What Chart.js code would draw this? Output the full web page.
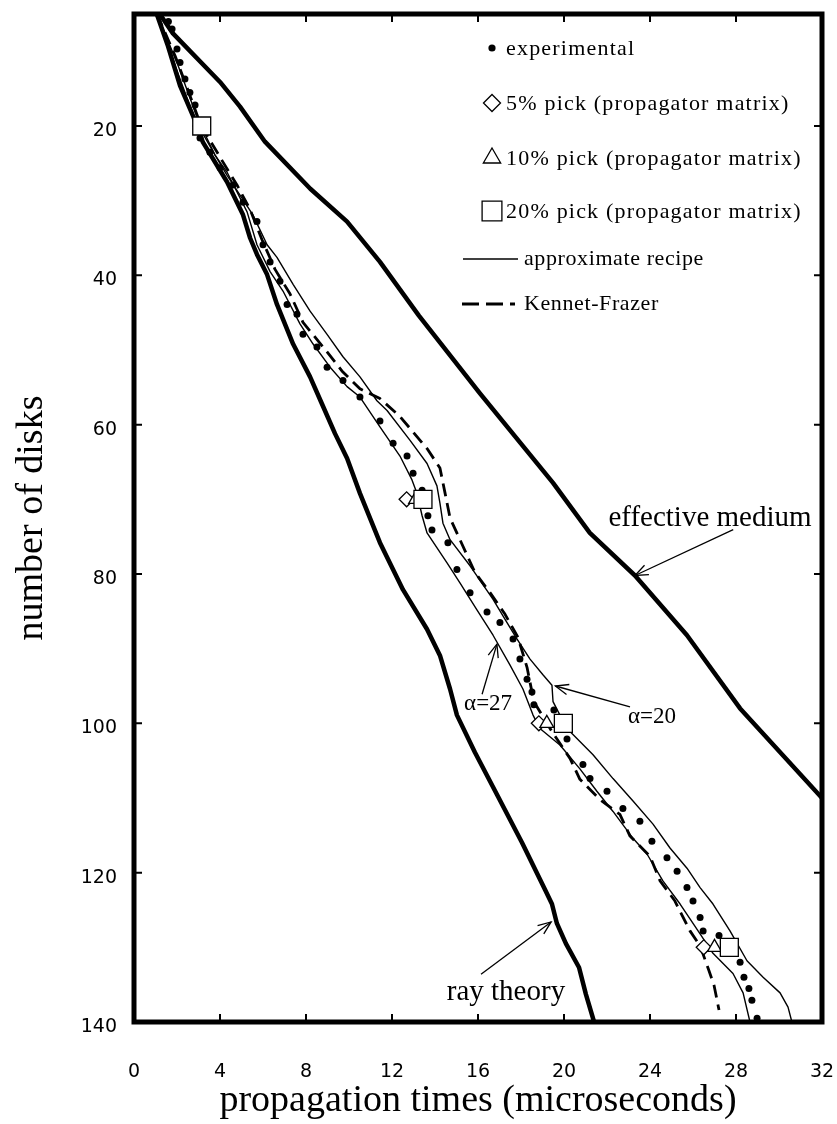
<!DOCTYPE html>
<html>
<head>
<meta charset="utf-8">
<title>Propagation times through a stack of disks</title>
<script src="https://cdn.jsdelivr.net/npm/chart.js@4.4.1/dist/chart.umd.min.js"></script>
<style>
  html, body { margin: 0; padding: 0; background: #fff; }
  #wrap { width: 837px; height: 1124px; }
</style>
</head>
<body>
<div id="wrap"><canvas id="chart" width="837" height="1124"></canvas></div>
<script>
// ---- axis ticks ----
const xTicks = [0, 4, 8, 12, 16, 20, 24, 28, 32];
const yTicks = [20, 40, 60, 80, 100, 120, 140];

// ---- experimental first arrivals: time (microseconds) / number of disks ----
const expT = [1.6, 1.77, 2.0, 2.14, 2.37, 2.6, 2.84, 3.07, 3.53, 4.0, 4.6, 5.07, 5.72, 6.0, 6.33, 6.79,
  7.12, 7.58, 7.86, 8.51, 8.98, 9.72, 10.51, 11.44, 12.05, 12.7, 12.98, 13.4, 13.67, 13.86, 14.6,
  15.02, 15.63, 16.42, 17.02, 17.63, 17.95, 18.28, 18.51, 18.6, 19.53, 20.14, 20.88, 21.21, 22.0,
  22.74, 23.53, 24.09, 24.79, 25.26, 25.72, 26.0, 26.33, 26.47, 27.21, 28.19, 28.37, 28.6, 28.74, 28.98];
const expN = [6.0, 7.0, 9.7, 11.5, 13.7, 15.5, 17.2, 21.6, 23.5, 25.6, 27.9, 30.2, 32.8, 35.9, 38.2, 40.8,
  43.9, 45.2, 47.9, 49.6, 52.3, 54.1, 56.3, 59.5, 62.5, 64.2, 66.5, 68.8, 72.2, 74.1, 75.8,
  79.4, 82.5, 85.1, 86.5, 88.7, 91.4, 94.1, 95.8, 97.5, 98.2, 102.1, 105.5, 107.4, 109.1,
  111.4, 113.1, 115.8, 118.0, 119.8, 122.0, 123.8, 126.0, 127.8, 128.4, 132.0, 134.0, 135.5, 137.1, 139.5];

// ---- propagator-matrix picks ----
const pickN = [20, 70, 100, 130];
const pick5T = [3.1, 12.68, 18.83, 26.5];
const pick10T = [3.15, 13.1, 19.2, 27.0];
const pick20T = [3.15, 13.44, 19.97, 27.69];

// ---- approximate recipe, alpha = 27 ----
const a27T = [1.07, 1.91, 2.84, 3.77, 4.33, 5.26, 5.72, 6.33, 6.93, 7.72, 8.33, 9.12, 9.91, 10.51, 11.44,
  12.37, 12.93, 13.16, 13.4, 13.63, 14.56, 15.16, 15.95, 16.7, 17.49, 18.09, 18.56, 18.88, 19.81, 20.74,
  21.53, 22.28, 23.21, 23.86, 24.6, 25.4, 26.33, 26.93, 27.86, 28.33, 28.65];
const a27N = [5.0, 11.9, 19.2, 23.9, 26.2, 31.5, 35.9, 39.5, 42.1, 46.5, 49.2, 52.3, 54.9, 56.3, 60.3,
  64.2, 67.4, 69.2, 72.2, 74.5, 78.5, 81.2, 84.8, 88.2, 92.2, 95.4, 98.9, 100.7, 102.9, 106.1,
  109.1, 111.8, 115.4, 117.5, 121.1, 124.2, 128.2, 130.8, 133.5, 136.1, 140.0];

// ---- approximate recipe, alpha = 20 ----
const a20T = [1.07, 2.05, 2.98, 3.77, 4.33, 5.53, 6.19, 6.65, 7.4, 8.19, 8.98, 9.72, 10.51, 11.3, 11.77,
  12.84, 13.63, 14.09, 14.23, 14.37, 14.7, 15.63, 16.7, 17.35, 17.81, 18.42, 19.02, 19.44, 19.49, 19.81,
  20.14, 21.35, 22.28, 23.21, 24.14, 24.93, 25.72, 26.33, 26.93, 27.72, 28.51, 29.26, 30.05, 30.42, 30.6];
const a20N = [5.0, 11.9, 19.2, 23.9, 26.6, 31.9, 35.9, 37.6, 41.2, 44.8, 47.9, 50.9, 53.6, 56.8, 58.1,
  62.1, 65.2, 68.2, 70.5, 73.2, 75.4, 78.9, 83.4, 86.5, 88.7, 91.4, 93.5, 94.9, 97.1, 98.9,
  100.7, 104.2, 107.4, 110.4, 113.5, 116.7, 119.4, 122.0, 124.2, 127.8, 131.8, 134.0, 136.1, 138.0, 140.0];

// ---- Kennet-Frazer ----
const kfT = [1.07, 1.91, 2.6, 3.12, 3.53, 4.09, 4.79, 5.4, 5.95, 6.56, 7.26, 7.86, 8.88, 9.67, 10.51,
  11.44, 12.37, 13.63, 14.23, 14.47, 14.7, 15.16, 15.86, 16.56, 17.26, 17.86, 18.28, 18.6, 19.44, 20.28,
  20.74, 21.67, 22.6, 23.07, 24.0, 24.47, 25.16, 25.86, 26.33, 26.74, 26.98, 27.21];
const kfN = [5.0, 10.6, 15.9, 20.0, 21.9, 24.6, 27.9, 31.2, 35.2, 39.2, 42.5, 46.3, 49.9, 52.8, 55.2,
  56.5, 58.9, 63.2, 65.8, 69.2, 72.5, 75.4, 79.8, 82.5, 85.4, 88.5, 92.5, 97.1, 101.1, 104.7,
  107.5, 110.2, 112.2, 115.1, 117.8, 121.1, 123.8, 127.8, 129.8, 133.1, 135.1, 138.4];

// ---- effective medium ----
const effT = [1.2, 1.81, 4.0, 4.93, 6.09, 8.2, 9.91, 11.44, 13.25, 16.09, 19.49, 21.2, 23.3, 25.72, 28.19, 32.0];
const effN = [5.0, 7.6, 14.1, 17.4, 22.1, 28.4, 32.8, 38.2, 45.4, 55.8, 67.8, 74.5, 80.2, 88.2, 98.0, 110.0];

// ---- ray theory ----
const rayT = [1.07, 1.58, 2.14, 2.74, 3.21, 4.33, 5.07, 5.4, 5.72, 6.19, 6.65, 7.4, 8.19, 8.74, 9.35, 9.91,
  10.51, 11.44, 12.51, 13.63, 14.23, 14.7, 15.02, 15.86, 16.93, 18.05, 19.12, 19.44, 19.67, 20.09, 20.7,
  21.02, 21.4];
const rayN = [5.1, 9.3, 14.6, 18.6, 22.2, 27.5, 31.9, 35.0, 37.2, 39.9, 43.9, 49.2, 53.6, 57.2, 61.2, 64.5,
  69.2, 75.8, 82.1, 87.4, 90.9, 95.4, 98.9, 103.9, 109.8, 116.0, 122.3, 124.2, 126.8, 129.5, 132.7,
  136.3, 140.0];

const pts = (xs, ys) => xs.map((x, i) => ({ x, y: ys[i] }));

const SERIF = '"Liberation Serif", "Times New Roman", serif';
const SANS = '"DejaVu Sans", sans-serif';

// labelled arrows placed in data coordinates: text centre, arrow tail, arrow tip
const callouts = [
  { text: 'effective medium', size: 29, at: [26.79, 72.5], from: [27.87, 74.06], to: [23.3, 80.2] },
  { text: '\u03b1=20', size: 23, at: [24.09, 99.1], from: [23.07, 97.8], to: [19.6, 95.0] },
  { text: '\u03b1=27', size: 23, at: [16.47, 97.4], from: [16.19, 96.1], to: [16.88, 89.4] },
  { text: 'ray theory', size: 29, at: [17.3, 136.0], from: [16.14, 133.6], to: [19.4, 126.6] }
];

function arrowHead(ctx, x0, y0, x1, y1, len) {
  const a = Math.atan2(y1 - y0, x1 - x0);
  const spread = 0.38;
  ctx.beginPath();
  ctx.moveTo(x1 - len * Math.cos(a - spread), y1 - len * Math.sin(a - spread));
  ctx.lineTo(x1, y1);
  ctx.lineTo(x1 - len * Math.cos(a + spread), y1 - len * Math.sin(a + spread));
  ctx.stroke();
}

// frame, inward ticks on all four sides, legend and callouts
const decorations = {
  id: 'decorations',
  afterDatasetsDraw(chart) {
    const { ctx, chartArea: a, scales: { x, y } } = chart;
    ctx.save();
    ctx.strokeStyle = '#000';
    ctx.fillStyle = '#000';

    // inward ticks
    ctx.lineWidth = 2;
    ctx.beginPath();
    xTicks.forEach(v => {
      if (v === x.min || v === x.max) return;
      const px = x.getPixelForValue(v);
      ctx.moveTo(px, a.bottom); ctx.lineTo(px, a.bottom - 8);
      ctx.moveTo(px, a.top); ctx.lineTo(px, a.top + 8);
    });
    yTicks.forEach(v => {
      if (v === y.min || v === y.max) return;
      const py = y.getPixelForValue(v);
      ctx.moveTo(a.left, py); ctx.lineTo(a.left + 8, py);
      ctx.moveTo(a.right, py); ctx.lineTo(a.right - 8, py);
    });
    ctx.stroke();

    // frame
    ctx.lineWidth = 5;
    ctx.strokeRect(a.left, a.top, a.right - a.left, a.bottom - a.top);

    // legend
    const ds = chart.data.datasets;
    const symX = a.left + 358, txtX = a.left + 372;
    const rows = [34, 89, 144, 197, 245, 290].map(v => a.top + v);
    const legendRadius = [3.6, 8.5, 10, 14];
    ctx.textBaseline = 'middle';
    ctx.textAlign = 'left';
    ctx.font = '22px ' + SERIF;
    ctx.letterSpacing = '1.2px';
    for (let i = 0; i < 4; i++) {
      const d = ds[i];
      const opts = { pointStyle: d.pointStyle, radius: legendRadius[i], borderWidth: d.pointBorderWidth || 0, rotation: 0 };
      ctx.save();
      ctx.fillStyle = d.pointBackgroundColor;
      ctx.strokeStyle = d.pointBorderColor || '#000';
      ctx.lineWidth = d.pointBorderWidth || 0;
      Chart.helpers.drawPoint(ctx, opts, symX, rows[i]);
      ctx.restore();
      ctx.fillText(d.label, txtX, rows[i] + 1);
    }
    ctx.font = '22px ' + SERIF;
    ctx.letterSpacing = '0.6px';
    // approximate recipe sample
    ctx.lineWidth = 1.5;
    ctx.beginPath();
    ctx.moveTo(a.left + 329, rows[4]); ctx.lineTo(a.left + 384, rows[4]);
    ctx.stroke();
    ctx.fillText('approximate recipe', a.left + 390, rows[4]);
    // Kennet-Frazer sample
    ctx.lineWidth = 3;
    ctx.setLineDash([17, 7, 17, 7, 5, 100]);
    ctx.beginPath();
    ctx.moveTo(a.left + 328, rows[5]); ctx.lineTo(a.left + 388, rows[5]);
    ctx.stroke();
    ctx.setLineDash([]);
    ctx.fillText('Kennet-Frazer', a.left + 390, rows[5]);
    ctx.letterSpacing = '0px';

    // callouts
    ctx.lineWidth = 1.3;
    ctx.textAlign = 'center';
    callouts.forEach(c => {
      const tx = x.getPixelForValue(c.at[0]), ty = y.getPixelForValue(c.at[1]);
      const fx = x.getPixelForValue(c.from[0]), fy = y.getPixelForValue(c.from[1]);
      const px = x.getPixelForValue(c.to[0]), py = y.getPixelForValue(c.to[1]);
      ctx.font = c.size + 'px ' + SERIF;
      ctx.fillText(c.text, tx, ty);
      ctx.beginPath();
      ctx.moveTo(fx, fy); ctx.lineTo(px, py);
      ctx.stroke();
      arrowHead(ctx, fx, fy, px, py, 14);
    });
    ctx.restore();
  }
};

const lineDefaults = { showLine: true, pointRadius: 0, borderColor: '#000', tension: 0,
  borderJoinStyle: 'round', borderCapStyle: 'round', fill: false };

new Chart(document.getElementById('chart'), {
  type: 'scatter',
  data: {
    datasets: [
      { label: 'experimental', data: pts(expT, expN), pointStyle: 'circle', pointRadius: 3.5,
        pointBackgroundColor: '#000', pointBorderColor: '#000', pointBorderWidth: 0, order: 3 },
      { label: '5% pick (propagator matrix)', data: pts(pick5T, pickN), pointStyle: 'rectRot', pointRadius: 7.5,
        pointBackgroundColor: '#fff', pointBorderColor: '#000', pointBorderWidth: 1.3, order: 2 },
      { label: '10% pick (propagator matrix)', data: pts(pick10T, pickN), pointStyle: 'triangle', pointRadius: 8,
        pointBackgroundColor: '#fff', pointBorderColor: '#000', pointBorderWidth: 1.3, order: 1 },
      { label: '20% pick (propagator matrix)', data: pts(pick20T, pickN), pointStyle: 'rect', pointRadius: 12.7,
        pointBackgroundColor: '#fff', pointBorderColor: '#000', pointBorderWidth: 1.3, order: 0 },
      { ...lineDefaults, label: 'approximate recipe (\u03b1=27)', data: pts(a27T, a27N), borderWidth: 1.4, order: 6 },
      { ...lineDefaults, label: 'approximate recipe (\u03b1=20)', data: pts(a20T, a20N), borderWidth: 1.4, order: 6 },
      { ...lineDefaults, label: 'Kennet-Frazer', data: pts(kfT, kfN), borderWidth: 2.8,
        borderDash: [13, 7], borderCapStyle: 'butt', order: 5 },
      { ...lineDefaults, label: 'effective medium', data: pts(effT, effN), borderWidth: 4.5, order: 7 },
      { ...lineDefaults, label: 'ray theory', data: pts(rayT, rayN), borderWidth: 4.5, order: 7 }
    ]
  },
  options: {
    responsive: false,
    animation: false,
    devicePixelRatio: 1,
    layout: { padding: { left: 0, right: 15, top: 8, bottom: 0 } },
    plugins: { legend: { display: false }, tooltip: { enabled: false } },
    scales: {
      x: {
        type: 'linear', position: 'bottom', min: 0, max: 32,
        afterBuildTicks: s => { s.ticks = xTicks.map(v => ({ value: v })); },
        afterFit: s => { s.height = 102; s.paddingLeft = 0; s.paddingRight = 0; },
        grid: { display: false, drawTicks: false },
        border: { display: false },
        ticks: { padding: 39, color: '#000', font: { family: SANS, size: 19 }, maxRotation: 0, autoSkip: false },
        title: { display: true, text: 'propagation times (microseconds)', color: '#000',
          font: { family: SERIF, size: 38, lineHeight: 1.2 }, padding: { top: 0, bottom: 0 } }
      },
      y: {
        type: 'linear', position: 'left', reverse: true, min: 5, max: 140,
        afterBuildTicks: s => { s.ticks = yTicks.map(v => ({ value: v })); },
        afterFit: s => { s.width = 134; s.paddingTop = 0; s.paddingBottom = 0; },
        grid: { display: false, drawTicks: false },
        border: { display: false },
        ticks: { padding: 17, labelOffset: 5, color: '#000', font: { family: SANS, size: 19 }, autoSkip: false },
        title: { display: true, text: 'number of disks', color: '#000',
          font: { family: SERIF, size: 38, lineHeight: 1.2 }, padding: { top: 9, bottom: 0 } }
      }
    }
  },
  plugins: [decorations]
});
</script>
</body>
</html>
